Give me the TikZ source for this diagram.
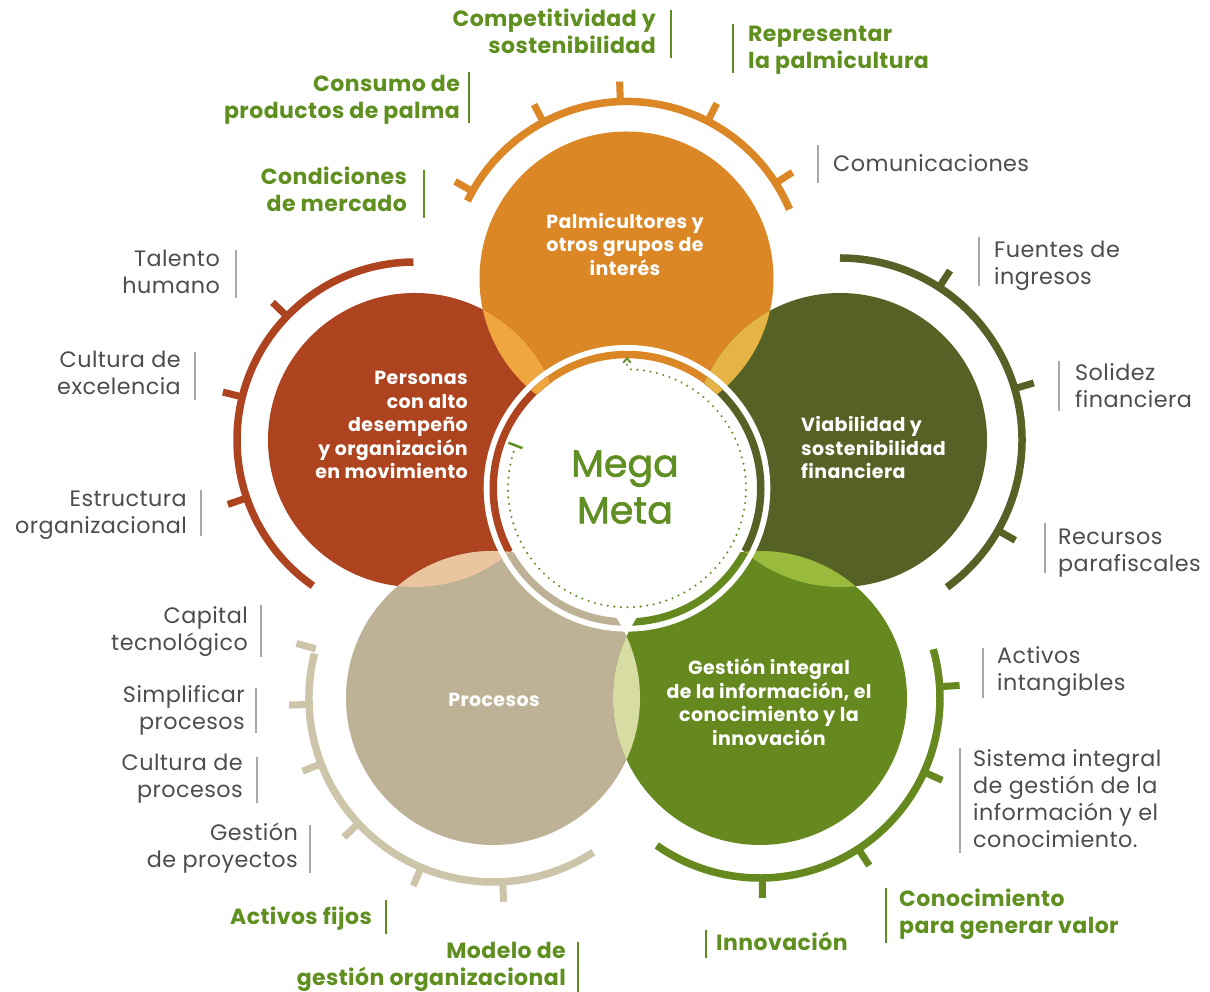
\documentclass[tikz,border=0pt]{standalone}
\usepackage{fontspec}
\setmainfont{Poppins}
\newfontfamily\labfont[LetterSpace=2]{Poppins}
\newfontfamily\megafont[FakeBold=1.5]{Poppins}
\usetikzlibrary{calc}
\definecolor{cOr}{HTML}{DB8726}
\definecolor{cRed}{HTML}{AD441F}
\definecolor{cDk}{HTML}{556125}
\definecolor{cGr}{HTML}{66891F}
\definecolor{cTan}{HTML}{BDB296}
\definecolor{cTanArc}{HTML}{CDC5AA}
\definecolor{cOvOR}{HTML}{F0A63F}
\definecolor{cOvOD}{HTML}{E5B444}
\definecolor{cOvRT}{HTML}{EAC5A0}
\definecolor{cOvDG}{HTML}{9ABA3D}
\definecolor{cOvTG}{HTML}{D7DCA2}
\definecolor{labGreen}{HTML}{5F8F1F}
\definecolor{labGray}{HTML}{4D4D4D}
\definecolor{barGray}{HTML}{A8A8A8}
\definecolor{megaGreen}{HTML}{5F8E22}
\newcommand\RL[1]{\begin{tabular}[t]{@{}r@{}}#1\end{tabular}}
\newcommand\LL[1]{\begin{tabular}[t]{@{}l@{}}#1\end{tabular}}
\newcommand\CL[1]{\begin{tabular}[t]{@{}c@{}}#1\end{tabular}}
\newcommand\fivecircles{%
 \fill[cOr] (O) circle (147pt);
 \fill[cRed] (R) circle (147pt);
 \fill[cDk] (D) circle (147pt);
 \fill[cTan] (T) circle (147pt);
 \fill[cGr] (G) circle (147pt);
 \begin{scope}\clip (O) circle (147pt); \fill[cOvOR] (R) circle (147pt); \fill[cOvOD] (D) circle (147pt);\end{scope}
 \begin{scope}\clip (R) circle (147pt); \fill[cOvRT] (T) circle (147pt);\end{scope}
 \begin{scope}\clip (D) circle (147pt); \fill[cOvDG] (G) circle (147pt);\end{scope}
 \begin{scope}\clip (T) circle (147pt); \fill[cOvTG] (G) circle (147pt);\end{scope}
}
\begin{document}
\begin{tikzpicture}[x=1pt,y=1pt,
 arcline/.style={line width=7.5pt},
 tickline/.style={line width=7pt},
 graybar/.style={barGray, line width=2.5pt},
 greenbar/.style={labGreen, line width=2.5pt},
 glab/.style={inner sep=0pt, text=labGreen, font=\labfont\fontsize{22}{26.7}\selectfont\bfseries},
 ylab/.style={inner sep=0pt, text=labGray, font=\labfont\fontsize{22.3}{27}\selectfont},
 wlab/.style={inner sep=0pt, text=white, font=\labfont\fontsize{19}{23.4}\selectfont\bfseries},
 dotline/.style={megaGreen, line width=2.3pt, line cap=round, dash pattern=on 0pt off 6.6pt},
]
\fill[white] (0,0) rectangle (1210,992);
\useasboundingbox (0,0) rectangle (1210,992);

\coordinate (M) at (627,503.7);
\coordinate (O) at (626.5,713.5);
\coordinate (R) at (415,552);
\coordinate (D) at (840,552);
\coordinate (T) at (493,294);
\coordinate (G) at (760,294);

% outer arcs with ticks
\draw[arcline,cOr] (O) ++(23:177pt) arc[start angle=23,end angle=154,radius=177pt];
\foreach \a in {32.6,62.7,92,118,150.5} {\draw[tickline,cOr] (O) ++(\a:177pt) -- ++(\a:20pt);}
\draw[arcline,cRed] (R) ++(90.5:178pt) arc[start angle=90.5,end angle=235,radius=178pt];
\foreach \a in {136,166,199} {\draw[tickline,cRed] (R) ++(\a:178pt) -- ++(\a:20pt);}
\draw[arcline,cDk] (D) ++(-54:182pt) arc[start angle=-54,end angle=90,radius=182pt];
\foreach \a in {57,16.4,-29.8} {\draw[tickline,cDk] (D) ++(\a:182pt) -- ++(\a:20pt);}
\draw[arcline,cGr] (G) ++(-125:180pt) arc[start angle=-125,end angle=15.7,radius=180pt];
\foreach \a in {3.6,-24.3,-56.9,-89.3} {\draw[tickline,cGr] (G) ++(\a:180pt) -- ++(\a:20pt);}
\draw[arcline,cTanArc] (T) ++(166:184pt) arc[start angle=166,end angle=303,radius=184pt];
\foreach \a in {164.5,182,201,223,247,273} {\draw[tickline,cTanArc] (T) ++(\a:184pt) -- ++(\a:20pt);}

% five circles
\fivecircles

% centre
\fill[white] (M) circle (143.3pt);
\begin{scope}[even odd rule]
 \clip (M) circle (137.5pt) (M) circle (130pt);
 \fivecircles
\end{scope}

% dotted cycle
\draw[dotline] (M) ++(159:119pt) arc[start angle=159,end angle=450,radius=119pt];
\fill[megaGreen] ($(M)+(0,123.5pt)$) circle (1.15pt);
\draw[megaGreen, line width=1.8pt] ($(M)+(-3.8,125.5)$) -- ($(M)+(0,129.8)$) -- ($(M)+(3.8,125.5)$);
\draw[megaGreen, line width=2.5pt] (M) ++(159:112pt) -- ++(159:15pt);

\node[anchor=base, inner sep=0pt, text=megaGreen, font=\megafont\fontsize{38}{46.7}\selectfont] (mega) at (625,515.3) {\CL{Mega\\Meta}};

% circle texts
\node[wlab, anchor=base] (palm) at (625,763.7) {\CL{Palmicultores y\\otros grupos de\\interés}};
\node[wlab, anchor=base east] (pers) at (468,607) {\RL{Personas\ \\con alto\\desempeño\\y organización\\en movimiento}};
\node[wlab, anchor=base west] (viab) at (801,560.3) {\LL{Viabilidad y\\sostenibilidad\\financiera}};
\node[wlab, anchor=base] (proc) at (494,285) {Procesos};
\node[wlab, anchor=base] (gesi) at (769,317) {\CL{Gestión integral\\de la información, el\\conocimiento y la\\innovación}};

% green labels
\node[glab, anchor=base east] (comp) at (656,965) {\RL{Competitividad y\\sostenibilidad}};
\draw[greenbar] (671,982) -- (671,934);
\node[glab, anchor=base west] (repr) at (748,950) {\LL{Representar\\la palmicultura}};
\draw[greenbar] (733,968) -- (733,919);
\node[glab, anchor=base east] (cons) at (460,900.3) {\RL{Consumo de\\productos de palma}};
\draw[greenbar] (469,920.3) -- (469,869.3);
\node[glab, anchor=base east] (cond) at (407,807) {\RL{Condiciones\\de mercado}};
\draw[greenbar] (424,822) -- (424,774);
\node[glab, anchor=base west] (cono) at (899,85) {\LL{Conocimiento\\para generar valor}};
\draw[greenbar] (886,104) -- (886,49);
\node[glab, anchor=base west] (inno) at (716,41) {Innovación};
\draw[greenbar] (706,62) -- (706,34);
\node[glab, anchor=base east] (actf) at (372,67) {Activos fijos};
\draw[greenbar] (386,92) -- (386,58);
\node[glab, anchor=base east] (mode) at (566,33) {\RL{Modelo de\ \\gestión organizacional}};
\draw[greenbar] (578,50) -- (578,0);

% gray labels
\node[ylab, anchor=base west] (comu) at (833,820) {Comunicaciones};
\draw[graybar] (818,847) -- (818,809);
\node[ylab, anchor=base east] (tale) at (220,725.3) {\RL{Talento\\humano}};
\draw[graybar] (236,742) -- (236,693.7);
\node[ylab, anchor=base east] (cult) at (181,624) {\RL{Cultura de\\excelencia}};
\draw[graybar] (195,640) -- (195,592);
\node[ylab, anchor=base east] (estr) at (187,485) {\RL{Estructura\\organizacional}};
\draw[graybar] (201,502) -- (201,456);
\node[ylab, anchor=base west] (fuen) at (994,734) {\LL{Fuentes de\\ingresos}};
\draw[graybar] (979,755) -- (979,706);
\node[ylab, anchor=base west] (soli) at (1075,611) {\LL{Solidez\\financiera}};
\draw[graybar] (1059,631) -- (1059,581);
\node[ylab, anchor=base west] (recu) at (1058,447) {\LL{Recursos\\parafiscales}};
\draw[graybar] (1045,469) -- (1045,419);
\node[ylab, anchor=base west] (acti) at (997,328) {\LL{Activos\\intangibles}};
\draw[graybar] (983,344) -- (983,294);
\node[ylab, anchor=base west] (sist) at (973,225) {\LL{Sistema integral\\de gestión de la\\información y el\\conocimiento.}};
\draw[graybar] (960,244) -- (960,139);
\node[ylab, anchor=base east] (capi) at (248,368) {\RL{Capital\\tecnológico}};
\draw[graybar] (261,387) -- (261,335);
\node[ylab, anchor=base east] (simp) at (245,289) {\RL{Simplificar\\procesos}};
\draw[graybar] (256,304) -- (256,259);
\node[ylab, anchor=base east] (cupr) at (243,221) {\RL{Cultura de\\procesos}};
\draw[graybar] (257,235) -- (257,189);
\node[ylab, anchor=base east] (gest) at (298,151) {\RL{Gestión\\de proyectos}};
\draw[graybar] (310,167) -- (310,119);
\end{tikzpicture}
\end{document}
